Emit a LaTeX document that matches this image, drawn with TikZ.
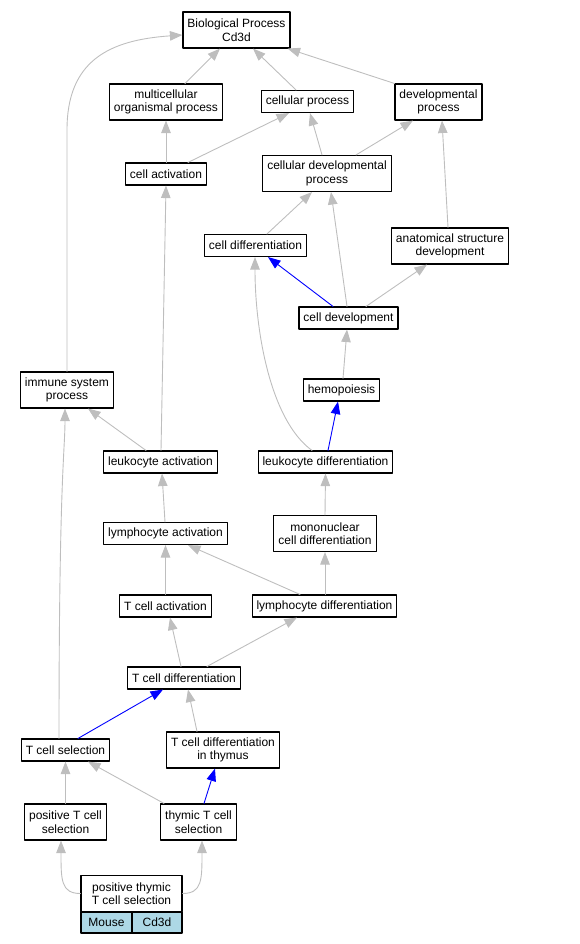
\documentclass[tikz,border=0pt]{standalone}
\usepackage{fontspec}
\setmainfont{Liberation Sans}
\usetikzlibrary{arrows.meta}
\definecolor{edgegray}{RGB}{190,190,190}
\definecolor{cellblue}{RGB}{173,216,230}
\begin{document}
\begin{tikzpicture}[line cap=round,line join=round,x=1pt,y=-1pt,
	term/.style={draw=black,line width=1.1pt,inner xsep=4.5pt,inner ysep=0pt,minimum height=22pt,align=center,font=\fontsize{12}{13.5}\selectfont},
	termtwo/.style={term,minimum height=36pt},
	isa/.style={draw=edgegray,line width=0.9pt,-{Triangle[length=12.5pt,width=9.5pt]}},
	part/.style={draw=blue,line width=0.9pt,-{Triangle[length=12.5pt,width=9.5pt]}}]
		\useasboundingbox (0,0) rectangle (579,944);
		% terms
		\node[termtwo] (bp) at (236.5,30) {Biological Process\\Cd3d};
		\node[termtwo] (mop) at (166,102) {multicellular\\organismal process};
		\node[term] (cp) at (307.5,101.5) {cellular process};
		\node[termtwo] (dp) at (438.5,102) {developmental\\process};
		\node[term] (ca) at (166,174) {cell activation};
		\node[termtwo] (cdp) at (327,173.5) {cellular developmental\\process};
		\node[term] (cd) at (255.5,245.5) {cell differentiation};
		\node[termtwo] (asd) at (450,246) {anatomical structure\\development};
		\node[term] (cdev) at (348.5,318) {cell development};
		\node[term] (hem) at (341.5,390) {hemopoiesis};
		\node[termtwo] (isp) at (67,390) {immune system\\process};
		\node[term] (la) at (160.5,462) {leukocyte activation};
		\node[term] (ld) at (325.5,462) {leukocyte differentiation};
		\node[term] (lyma) at (165.5,533.5) {lymphocyte activation};
		\node[termtwo] (mcd) at (325,533.5) {mononuclear\\cell differentiation};
		\node[term] (tca) at (165.5,606) {T cell activation};
		\node[term] (lymd) at (324.5,606) {lymphocyte differentiation};
		\node[term] (tcd) at (184,678) {T cell differentiation};
		\node[term] (tcs) at (65.5,750) {T cell selection};
		\node[termtwo] (tcdt) at (223,750) {T cell differentiation\\in thymus};
		\node[termtwo] (ptcs) at (65.5,822) {positive T cell\\selection};
		\node[termtwo] (ttcs) at (198.5,822) {thymic T cell\\selection};
		\node[termtwo,minimum width=101pt] (ptts) at (131.5,893.5) {positive thymic\\T cell selection};
		\node[term,fill=cellblue,minimum width=51pt,minimum height=21pt] (mouse) at (106.5,922.5) {Mouse};
		\node[term,fill=cellblue,minimum width=50pt,minimum height=21pt] (gene) at (157,922.5) {Cd3d};
		% edges
		\draw[isa] ([xshift=19pt]mop.north) -- ([xshift=-16.5pt]bp.south);
		\draw[isa] ([xshift=-11.5pt]cp.north) -- ([xshift=16.5pt]bp.south);
		\draw[isa] (dp.north west) -- ([xshift=-3pt]bp.south east);
		\draw[isa] (isp.north) -- (67,130) .. controls (67,60) and (110,40) .. ([yshift=-5pt]bp.west);
		\draw[isa] (ca.north) -- (mop.south);
		\draw[isa] ([xshift=22pt]ca.north) -- ([xshift=-18.5pt]cp.south);
		\draw[isa] ([xshift=-5pt]cdp.north) -- ([xshift=2.5pt]cp.south);
		\draw[isa] ([xshift=29pt]cdp.north) -- ([xshift=-25.5pt]dp.south);
		\draw[isa] ([xshift=-2pt]asd.north) -- ([xshift=3.5pt]dp.south);
		\draw[isa] ([xshift=11.5pt]cd.north) -- ([xshift=-15pt]cdp.south);
		\draw[isa] ([xshift=-1.5pt]cdev.north) -- ([xshift=4pt]cdp.south);
		\draw[part] ([xshift=-15.5pt]cdev.north) -- ([xshift=12.5pt]cd.south);
		\draw[isa] ([xshift=17.5pt]cdev.north) -- ([xshift=-23pt]asd.south);
		\draw[isa] ([xshift=1.5pt]hem.north) -- ([xshift=-1.5pt]cdev.south);
		\draw[isa] ([xshift=0.5pt]la.north) -- (ca.south);
		\draw[isa] ([xshift=-14.5pt]la.north) -- ([xshift=21pt]isp.south);
		\draw[part] ([xshift=2.5pt]ld.north) -- ([xshift=-3.5pt]hem.south);
		\draw[isa] ([xshift=-13.5pt]ld.north) .. controls (270,420) and (255,330) .. ([xshift=-0.5pt]cd.south);
		\draw[isa] ([xshift=-0.5pt]lyma.north) -- ([xshift=1.5pt]la.south);
		\draw[isa] (mcd.north) -- (ld.south);
		\draw[isa] (tca.north) -- (lyma.south);
		\draw[isa] ([xshift=-24.5pt]lymd.north) -- ([xshift=22.5pt]lyma.south);
		\draw[isa] ([xshift=0.5pt]lymd.north) -- (mcd.south);
		\draw[isa] ([xshift=-3pt]tcd.north) -- ([xshift=4.5pt]tca.south);
		\draw[isa] ([xshift=23pt]tcd.north) -- ([xshift=-27.5pt]lymd.south);
		\draw[part] ([xshift=12.5pt]tcs.north) -- ([xshift=-21pt]tcd.south);
		\draw[isa] ([xshift=-6.5pt]tcs.north) .. controls (59,480) and (65,450) .. ([xshift=-2pt]isp.south);
		\draw[isa] ([xshift=-26pt]tcdt.north) -- ([xshift=4pt]tcd.south);
		\draw[isa] (ptcs.north) -- (tcs.south);
		\draw[isa] ([xshift=-34.5pt]ttcs.north) -- ([xshift=22.5pt]tcs.south);
		\draw[part] ([xshift=5.5pt]ttcs.north) -- ([xshift=-8pt]tcdt.south);
		\draw[isa] (ptts.west) .. controls (61,893.5) and (61,880) .. ([xshift=-4.5pt]ptcs.south);
		\draw[isa] (ptts.east) .. controls (202,893.5) and (202,880) .. ([xshift=3.5pt]ttcs.south);
\end{tikzpicture}
\end{document}
